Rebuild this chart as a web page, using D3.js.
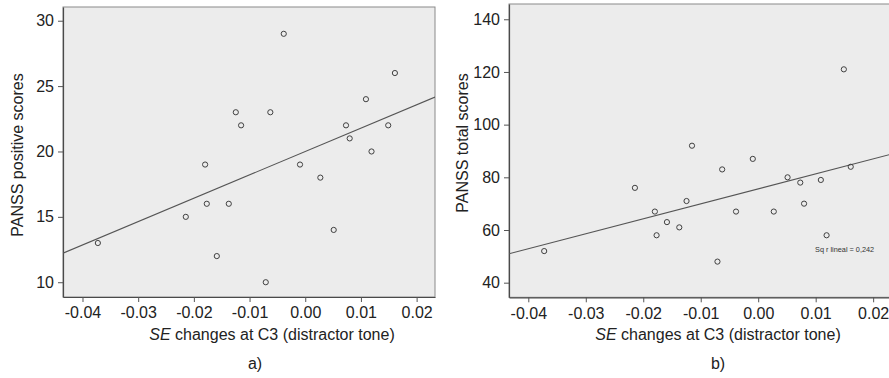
<!DOCTYPE html>
<html>
<head>
<meta charset="utf-8">
<script src="https://cdn.jsdelivr.net/npm/d3@7"></script>
<style>
  html, body { margin: 0; padding: 0; background: #fff; }
  svg { display: block; font-family: "Liberation Sans", Arial, sans-serif; }
</style>
</head>
<body>
<svg id="chart" width="889" height="378"></svg>
<script>
// SE changes at C3 (distractor tone), one value per patient
const seChange = [
  -0.00386, 0.0161, -0.01247, -0.00627, -0.01152, 0.0109, 0.00732, 0.0149, 0.00798, 0.0119,
  -0.01798, -0.00094, 0.00271, -0.01768, -0.01373, -0.02145, -0.03724, 0.00511, -0.01588, -0.00709
];
// PANSS positive scores, same patient order
const panssPositive = [29, 26, 23, 23, 22, 24, 22, 22, 21, 20, 19, 19, 18, 16, 16, 15, 13, 14, 12, 10];
// PANSS total scores, same patient order
const panssTotal = [67, 84, 71, 83, 92, 79, 78, 121, 70, 58, 67, 87, 67, 58, 61, 76, 52, 80, 63, 48];

const xTicks = [-0.04, -0.03, -0.02, -0.01, 0.00, 0.01, 0.02];
const yTicksPositive = [10, 15, 20, 25, 30];
const yTicksTotal = [40, 60, 80, 100, 120, 140];
const rSquaredTotal = 0.242;

const svg = d3.select("#chart");

function linearFit(xs, ys) {
  const mx = d3.mean(xs), my = d3.mean(ys);
  let sxy = 0, sxx = 0;
  xs.forEach((x, i) => { sxy += (x - mx) * (ys[i] - my); sxx += (x - mx) * (x - mx); });
  const slope = sxy / sxx;
  return x => my + slope * (x - mx);
}

function panel(cfg) {
  const x = d3.scaleLinear().domain(cfg.xDomain).range([cfg.left, cfg.right]);
  const y = d3.scaleLinear().domain(cfg.yDomain).range([cfg.bottom, cfg.top]);
  const g = svg.append("g");
  const clipId = "clip-" + cfg.id;

  g.append("clipPath").attr("id", clipId)
    .append("rect")
    .attr("x", cfg.left).attr("y", cfg.top)
    .attr("width", cfg.right - cfg.left).attr("height", cfg.bottom - cfg.top);

  // plot background and frame
  g.append("rect")
    .attr("x", cfg.left).attr("y", cfg.top)
    .attr("width", cfg.right - cfg.left).attr("height", cfg.bottom - cfg.top)
    .attr("fill", "#ececec")
    .attr("stroke", "#8a8a8a").attr("stroke-width", 1);

  // axes
  const xAxis = d3.axisBottom(x).tickValues(xTicks).tickFormat(d3.format(".2f"))
    .tickSizeInner(5).tickSizeOuter(0).tickPadding(5);
  const yAxis = d3.axisLeft(y).tickValues(cfg.yTicks).tickFormat(d3.format("d"))
    .tickSizeInner(5).tickSizeOuter(0).tickPadding(4);

  const gx = g.append("g").attr("transform", `translate(0,${cfg.bottom})`).call(xAxis);
  const gy = g.append("g").attr("transform", `translate(${cfg.left},0)`).call(yAxis);
  [gx, gy].forEach(a => {
    a.select(".domain").attr("stroke", "#4a4a4a").attr("stroke-width", 1.2);
    a.selectAll(".tick line").attr("stroke", "#555");
    a.selectAll(".tick text").attr("fill", "#222").style("font-size", "16px");
  });
  gx.selectAll(".tick text").text(d => d3.format(".2f")(d).replace("−", "-"));

  // regression line
  const fit = linearFit(seChange, cfg.values);
  const lineGen = d3.line().x(d => x(d)).y(d => y(fit(d)));
  g.append("path")
    .datum(cfg.xDomain)
    .attr("clip-path", `url(#${clipId})`)
    .attr("d", lineGen)
    .attr("fill", "none")
    .attr("stroke", "#555")
    .attr("stroke-width", 1.1);

  // data points
  g.append("g").attr("clip-path", `url(#${clipId})`)
    .selectAll("circle")
    .data(seChange.map((v, i) => [v, cfg.values[i]]))
    .join("circle")
    .attr("cx", d => x(d[0]))
    .attr("cy", d => y(d[1]))
    .attr("r", 2.6)
    .attr("fill", "none")
    .attr("stroke", "#404040")
    .attr("stroke-width", 1);

  // axis titles
  const xt = g.append("text")
    .attr("x", cfg.xTitleX).attr("y", 336)
    .attr("text-anchor", "middle").attr("dominant-baseline", "middle")
    .attr("fill", "#222").style("font-size", "16px");
  xt.append("tspan").style("font-style", "italic").text("SE");
  xt.append("tspan").text(" changes at C3 (distractor tone)");

  g.append("text")
    .attr("transform", `translate(${cfg.yTitleX},${cfg.yTitleY}) rotate(-90)`)
    .attr("text-anchor", "middle").attr("dominant-baseline", "middle")
    .attr("fill", "#222").style("font-size", "16px")
    .text(cfg.yTitle);

  g.append("text")
    .attr("x", cfg.tagX).attr("y", 365)
    .attr("text-anchor", "middle").attr("dominant-baseline", "middle")
    .attr("fill", "#222").style("font-size", "16px")
    .text(cfg.tag);

  return { x, y, g };
}

panel({
  id: "a", left: 63, right: 435, top: 7, bottom: 297,
  xDomain: [-0.0435, 0.0233], yDomain: [8.87, 31.05],
  yTicks: yTicksPositive, values: panssPositive,
  yTitle: "PANSS positive scores", yTitleX: 19, yTitleY: 155,
  xTitleX: 272, tag: "a)", tagX: 255
});

const b = panel({
  id: "b", left: 509, right: 892, top: 4, bottom: 297.3,
  xDomain: [-0.04336, 0.02328], yDomain: [34.45, 145.8],
  yTicks: yTicksTotal, values: panssTotal,
  yTitle: "PANSS total scores", yTitleX: 464, yTitleY: 143,
  xTitleX: 718, tag: "b)", tagX: 718
});

b.g.append("text")
  .attr("x", b.x(0.0099)).attr("y", b.y(52.2))
  .attr("dominant-baseline", "middle")
  .attr("fill", "#333").style("font-size", "7.3px")
  .text("Sq r lineal = " + d3.format(".3f")(rSquaredTotal).replace(".", ","));
</script>
</body>
</html>
